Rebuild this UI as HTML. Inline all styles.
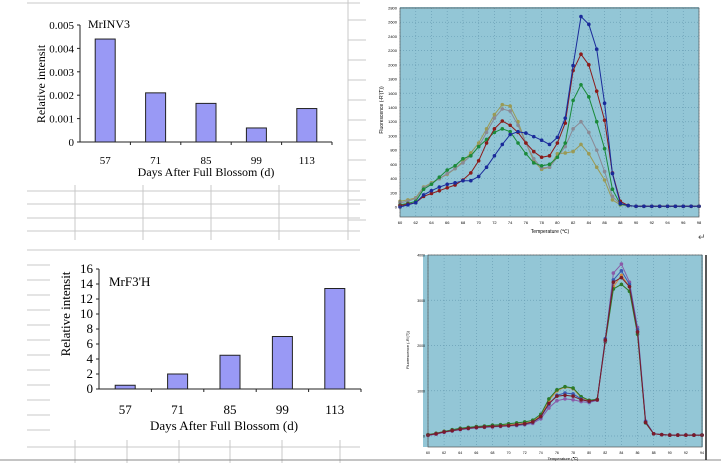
<!DOCTYPE html>
<html><head><meta charset="utf-8">
<style>
html,body{margin:0;padding:0;background:#fff;}
svg{display:block;font-family:"Liberation Serif",serif;}
.s{font-family:"Liberation Sans",sans-serif;}
</style></head>
<body>
<svg id="root" width="721" height="463" viewBox="0 0 721 463">
<g id="grid" stroke="#c8c8c8" stroke-width="1">
  <line x1="27" y1="3" x2="360" y2="3"/>
  <line x1="27" y1="191" x2="360" y2="191"/>
  <line x1="27" y1="204" x2="360" y2="204"/>
  <line x1="27" y1="218" x2="360" y2="218"/>
  <line x1="27" y1="231" x2="360" y2="231"/>
  <line x1="75" y1="185" x2="75" y2="240"/>
  <line x1="143" y1="185" x2="143" y2="240"/>
  <line x1="211" y1="185" x2="211" y2="240"/>
  <line x1="279" y1="185" x2="279" y2="240"/>
  <line x1="348" y1="0" x2="348" y2="240"/>
  <line x1="27" y1="250" x2="360" y2="250"/>
  <line x1="27" y1="447" x2="360" y2="447"/>
  <line x1="75" y1="440" x2="75" y2="463"/>
  <line x1="127" y1="440" x2="127" y2="463"/>
  <line x1="179" y1="440" x2="179" y2="463"/>
  <line x1="230" y1="440" x2="230" y2="463"/>
  <line x1="282" y1="440" x2="282" y2="463"/>
  <line x1="340" y1="440" x2="340" y2="463"/>
  <line x1="0" y1="460" x2="721" y2="460" stroke="#888"/>
</g>
<g id="side-ticks" stroke="#c8c8c8"></g>

<g id="c1">
  <text x="88" y="28" font-size="12">MrINV3</text>
  <text transform="translate(45,84) rotate(-90)" text-anchor="middle" font-size="12">Relative intensit</text>
  <text x="206" y="176" text-anchor="middle" font-size="12">Days After Full Blossom (d)</text>
</g>
<g id="c2">
  <text x="109" y="286" font-size="13">MrF3'H</text>
  <text transform="translate(70,314) rotate(-90)" text-anchor="middle" font-size="13">Relative intensit</text>
  <text x="224" y="430" text-anchor="middle" font-size="13">Days After Full Blossom (d)</text>
</g>

<g id="m1">
  <rect x="400" y="7" width="299" height="210" fill="#93c6d6"/>
  <text transform="translate(383,110) rotate(-90)" text-anchor="middle" font-size="5" class="s">Fluorescence (-R'(T))</text>
  <text x="550" y="233" text-anchor="middle" font-size="5" class="s">Temperature (℃)</text>
  <text x="698" y="240" font-size="9" class="s" fill="#555">↵</text>
</g>
<g id="m2">
  <rect x="423" y="255" width="280" height="192" fill="#93c6d6"/>
  <line x1="706" y1="255" x2="706" y2="460" stroke="#222" stroke-width="1.5"/>
  <text transform="translate(409,350) rotate(-90)" text-anchor="middle" font-size="4" class="s">Fluorescence (-R'(T))</text>
  <text x="563" y="460" text-anchor="middle" font-size="4" class="s">Temperature (℃)</text>
</g>
</svg>
<script>
const NS="http://www.w3.org/2000/svg";
function mk(p,t,a){const e=document.createElementNS(NS,t);for(const k in a)e.setAttribute(k,a[k]);p.appendChild(e);return e;}

const days=["57","71","85","99","113"];
const inv3Values=[0.0044,0.0021,0.00165,0.0006,0.00143];
const inv3Ticks=["0","0.001","0.002","0.003","0.004","0.005"];
const f3hValues=[0.5,2,4.5,7,13.4];
const f3hTicks=["0","2","4","6","8","10","12","14","16"];

const temps1=[];for(let t=60;t<=98;t++)temps1.push(t);
const meltBlue=[0,30,60,170,230,280,320,340,370,370,430,560,720,880,1020,1060,1040,990,940,880,980,1250,1990,2680,2570,2220,1460,470,50,20,10,10,10,10,10,10,10,10,10];
const meltRed=[20,40,60,150,190,230,270,310,380,480,650,900,1100,1210,1150,1050,900,780,700,720,900,1180,1920,2150,2000,1630,1220,480,80,20,10,10,10,10,10,10,10,10,10];
const meltGreen=[30,50,80,250,320,420,520,580,680,720,850,950,1050,1100,1060,900,750,620,580,600,700,900,1500,1720,1550,1200,820,250,40,20,10,10,10,10,10,10,10,10,10];
const meltGray=[60,80,120,270,330,400,470,540,620,720,850,1050,1250,1380,1350,1150,900,680,550,560,700,850,1100,1200,1050,800,500,150,40,20,10,10,10,10,10,10,10,10,10];
const meltOlive=[80,100,130,280,340,400,460,540,640,760,900,1100,1300,1440,1420,1200,900,650,530,560,750,760,780,880,750,560,380,100,30,20,10,10,10,10,10,10,10,10,10];
const tempTicks1=["60","62","64","66","68","70","72","74","76","78","80","82","84","86","88","90","92","94","96","98"];
const fluorTicks1=["0","200","400","600","800","1000","1200","1400","1600","1800","2000","2200","2400","2600","2800"];

const temps2=[];for(let t=60;t<=94;t++)temps2.push(t);
const melt2A=[30,60,100,130,160,180,200,210,230,240,250,260,280,320,450,780,1000,1080,1050,850,780,800,2100,3300,3550,3300,2300,300,50,30,20,20,20,20,20];
const melt2G=[30,60,100,140,170,190,210,220,240,250,270,290,310,350,480,820,1020,1090,1060,870,790,810,2080,3250,3350,3200,2250,290,50,30,20,20,20,20,20];
const melt2B=[20,50,90,120,150,170,190,200,210,220,230,240,260,300,420,700,900,950,930,820,760,800,2150,3450,3650,3350,2350,320,50,30,20,20,20,20,20];
const melt2C=[10,40,80,110,140,160,180,190,200,210,220,230,250,280,380,620,780,820,800,760,740,790,2100,3600,3800,3400,2400,330,50,30,20,20,20,20,20];
const melt2D=[20,50,90,120,150,170,190,200,210,220,230,250,270,310,430,720,880,900,880,800,770,800,2120,3400,3500,3300,2300,300,50,30,20,20,20,20,20];
const tempTicks2=["60","62","64","66","68","70","72","74","76","78","80","82","84","86","88","90","92","94"];
const fluorTicks2=["0","1000","2000","3000","4000"];

const sm=document.getElementById('side-ticks');
for(let y=20;y<240;y+=20){mk(sm,'line',{x1:348,y1:y,x2:366,y2:y});}
for(let y=265;y<445;y+=15){mk(sm,'line',{x1:27,y1:y,x2:50,y2:y});}

function barChart(g,vals,ticks,tmax,x0,x1,y0,y1,fs,lblY){
  const ys=v=>y0-(v/tmax)*(y0-y1);
  const cw=(x1-x0)/vals.length;
  const xs=i=>x0+cw*(i+0.5);
  ticks.forEach((t,i)=>{
    const v=tmax*i/(ticks.length-1);
    mk(g,'line',{x1:x0-3,y1:ys(v),x2:x0,y2:ys(v),stroke:'#222'});
    const tx=mk(g,'text',{x:x0-6,y:ys(v)+4,'text-anchor':'end','font-size':fs});
    tx.textContent=t;
    
    
  });
  vals.forEach((v,i)=>{
    const r=mk(g,'rect',{x:xs(i)-10,y:ys(v),width:20,height:y0-ys(v),fill:'#9999f5',stroke:'#222','stroke-width':1});
    
    
    const tx=mk(g,'text',{x:xs(i),y:lblY,'text-anchor':'middle','font-size':fs});
    tx.textContent=days[i];
    
    
    mk(g,'line',{x1:x0+cw*(i+1),y1:y0,x2:x0+cw*(i+1),y2:y0+3,stroke:'#222'});
  });
  const ax=mk(g,'path',{d:`M${x0},${y1} V${y0} H${x1}`,fill:'none',stroke:'#222'});
  
  
}
barChart(document.getElementById('c1'),inv3Values,inv3Ticks,0.005,80,332,142,25,11,164);
barChart(document.getElementById('c2'),f3hValues,f3hTicks,16,99,361,389,269,13,414);

function melt(g,series,temps,tt,ft,fmax,xl,xr,y0,ytop,px,ybot){
  const tmin=+tt[0],tmax=+tt[tt.length-1];
  const xs=t=>xl+(t-tmin)/(tmax-tmin)*(xr-xl);
  const ys=v=>y0-v/fmax*(y0-ytop);
  tt.forEach(t=>{
    mk(g,'line',{x1:xs(+t),y1:ytop,x2:xs(+t),y2:ybot,stroke:'#6a9fb5','stroke-dasharray':'1,2','stroke-width':0.7});
    const tx=mk(g,'text',{x:xs(+t),y:ybot+7,'text-anchor':'middle','font-size':px,class:'s'});
    tx.textContent=t;
    
    
  });
  ft.forEach(f=>{
    mk(g,'line',{x1:xl,y1:ys(+f),x2:xr,y2:ys(+f),stroke:'#6a9fb5','stroke-dasharray':'1,2','stroke-width':0.7});
    const tx=mk(g,'text',{x:xl-3,y:ys(+f)+1.5,'text-anchor':'end','font-size':px,class:'s'});
    tx.textContent=f;
    
    
  });
  series.forEach(s=>{
    const d=s.v.map((v,i)=>(i?'L':'M')+xs(temps[i]).toFixed(1)+','+ys(v).toFixed(1)).join(' ');
    const p=mk(g,'path',{d:d,fill:'none',stroke:s.c,'stroke-width':1});
    
    
    s.v.forEach((v,i)=>{
      const c=mk(g,'circle',{cx:xs(temps[i]),cy:ys(v),r:1.8,fill:s.c});
      
      
    });
  });
  mk(g,'rect',{x:xl,y:ytop,width:xr-xl,height:ybot-ytop,fill:'none',stroke:'#555','stroke-width':0.7});
}
melt(document.getElementById('m1'),[
 {n:'olive',c:'#9a9a55',v:meltOlive},{n:'gray',c:'#8a8a95',v:meltGray},
 {n:'green',c:'#1a8a3a',v:meltGreen},{n:'red',c:'#8b1a1a',v:meltRed},{n:'blue',c:'#1a2a9a',v:meltBlue}],
 temps1,tempTicks1,fluorTicks1,2800,400,699,207,8,4,217);
melt(document.getElementById('m2'),[
 {n:'orange',c:'#d08a40',v:melt2A},{n:'green',c:'#2a7a2a',v:melt2G},
 {n:'purple',c:'#8a5aa8',v:melt2C},{n:'blue',c:'#3a5ab0',v:melt2B},{n:'darkred',c:'#7a1a2a',v:melt2D}],
 temps2,tempTicks2,fluorTicks2,4000,428,702,436,255,3.5,447);
</script>
</body></html>
